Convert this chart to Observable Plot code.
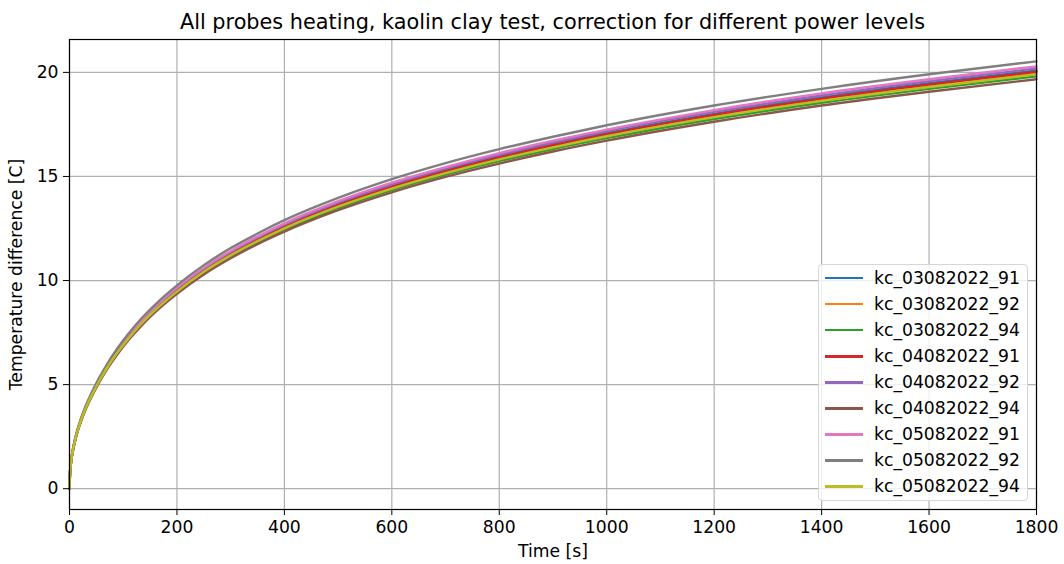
<!DOCTYPE html>
<html>
<head>
<meta charset="utf-8">
<script src="https://cdn.jsdelivr.net/npm/d3@7"></script>
<script src="https://cdn.jsdelivr.net/npm/@observablehq/plot@0.6"></script>
<style>
  body { margin: 0; background: #fff; font-family: "DejaVu Sans", sans-serif; }
  #wrap { position: relative; width: 1064px; height: 564px; }
  #title { position: absolute; left: 69px; width: 967px; top: 9px; text-align: center; font-size: 20.8px; line-height: 26px; color: #000; white-space: nowrap; }
  #legend { position: absolute; left: 818px; top: 264px; width: 210px; height: 237px; box-sizing: border-box;
            border: 1px solid #d6d6d6; border-radius: 4px; background: rgba(255,255,255,0.8); }
  .row { position: absolute; left: 0; width: 100%; height: 26px; line-height: 26px; font-size: 17.2px; color: #000; }
  .row .sw { position: absolute; left: 6px; top: 12px; width: 38px; height: 2.4px; }
  .row .lb { position: absolute; left: 55px; top: 0; white-space: nowrap; }
</style>
</head>
<body>
<div id="wrap">
  <div id="title">All probes heating, kaolin clay test, correction for different power levels</div>
  <div id="chart"></div>
  <div id="legend"></div>
</div>
<script>
// Sample times (s)
const times = [0, 1, 2, 4, 7, 10, 15, 20, 30, 40, 55, 70, 90, 110, 135, 160, 200, 250, 300, 350, 400, 500, 600, 700, 800, 900, 1000, 1200, 1400, 1600, 1800];

// Temperature difference (C) for each probe run
const kc_03082022_91 = [0, 0.78, 1.08, 1.50, 1.95, 2.30, 2.80, 3.20, 3.88, 4.45, 5.20, 5.86, 6.62, 7.29, 8.03, 8.67, 9.56, 10.51, 11.31, 12.00, 12.62, 13.67, 14.55, 15.30, 15.96, 16.55, 17.08, 18.01, 18.80, 19.48, 20.09];
const kc_03082022_92 = [0, 0.78, 1.07, 1.49, 1.94, 2.29, 2.78, 3.18, 3.86, 4.42, 5.17, 5.82, 6.58, 7.25, 7.98, 8.62, 9.50, 10.45, 11.24, 11.93, 12.54, 13.59, 14.46, 15.21, 15.86, 16.45, 16.98, 17.90, 18.69, 19.36, 19.97];
const kc_03082022_94 = [0, 0.77, 1.06, 1.48, 1.92, 2.27, 2.76, 3.16, 3.83, 4.39, 5.13, 5.78, 6.53, 7.19, 7.92, 8.55, 9.43, 10.36, 11.15, 11.83, 12.44, 13.48, 14.35, 15.09, 15.74, 16.32, 16.84, 17.76, 18.54, 19.21, 19.81];
const kc_04082022_91 = [0, 0.78, 1.08, 1.50, 1.94, 2.29, 2.79, 3.19, 3.87, 4.44, 5.18, 5.84, 6.60, 7.27, 8.01, 8.64, 9.53, 10.48, 11.28, 11.96, 12.58, 13.63, 14.51, 15.25, 15.91, 16.50, 17.03, 17.96, 18.74, 19.42, 20.03];
const kc_04082022_92 = [0, 0.78, 1.09, 1.51, 1.96, 2.31, 2.81, 3.22, 3.90, 4.47, 5.23, 5.89, 6.65, 7.33, 8.07, 8.71, 9.61, 10.56, 11.37, 12.06, 12.68, 13.74, 14.62, 15.38, 16.04, 16.63, 17.17, 18.10, 18.89, 19.58, 20.19];
const kc_04082022_94 = [0, 0.76, 1.06, 1.47, 1.91, 2.25, 2.74, 3.13, 3.80, 4.36, 5.09, 5.74, 6.48, 7.14, 7.86, 8.49, 9.36, 10.29, 11.07, 11.75, 12.35, 13.38, 14.24, 14.98, 15.62, 16.20, 16.72, 17.63, 18.41, 19.07, 19.67];
const kc_05082022_91 = [0, 0.79, 1.09, 1.52, 1.97, 2.32, 2.83, 3.23, 3.92, 4.49, 5.25, 5.92, 6.69, 7.36, 8.11, 8.76, 9.66, 10.62, 11.42, 12.12, 12.75, 13.81, 14.70, 15.45, 16.12, 16.72, 17.25, 18.19, 18.99, 19.67, 20.29];
const kc_05082022_92 = [0, 0.80, 1.10, 1.53, 1.99, 2.35, 2.86, 3.27, 3.97, 4.55, 5.31, 5.99, 6.77, 7.45, 8.21, 8.86, 9.77, 10.74, 11.56, 12.26, 12.90, 13.97, 14.87, 15.64, 16.31, 16.91, 17.46, 18.41, 19.21, 19.91, 20.53];
const kc_05082022_94 = [0, 0.77, 1.07, 1.49, 1.93, 2.28, 2.77, 3.17, 3.85, 4.41, 5.15, 5.81, 6.56, 7.22, 7.96, 8.59, 9.47, 10.42, 11.21, 11.89, 12.51, 13.55, 14.42, 15.16, 15.82, 16.40, 16.93, 17.85, 18.63, 19.30, 19.91];

const seriesNames = ["kc_03082022_91", "kc_03082022_92", "kc_03082022_94",
                     "kc_04082022_91", "kc_04082022_92", "kc_04082022_94",
                     "kc_05082022_91", "kc_05082022_92", "kc_05082022_94"];
const seriesValues = [kc_03082022_91, kc_03082022_92, kc_03082022_94,
                      kc_04082022_91, kc_04082022_92, kc_04082022_94,
                      kc_05082022_91, kc_05082022_92, kc_05082022_94];
const colors = ["#1f77b4", "#ff7f0e", "#2ca02c", "#d62728", "#9467bd",
                "#8c564b", "#e377c2", "#7f7f7f", "#bcbd22"];

const xTicks = [0, 200, 400, 600, 800, 1000, 1200, 1400, 1600, 1800];
const yTicks = [0, 5, 10, 15, 20];

// Long-format table for the line mark
const rows = seriesNames.flatMap((name, i) =>
  times.map((t, j) => ({ series: name, t, v: seriesValues[i][j] })));

const gridStyle = { stroke: "#b0b0b0", strokeOpacity: 1, strokeWidth: 1.2 };

const chart = Plot.plot({
  width: 1064,
  height: 564,
  marginLeft: 69,
  marginRight: 28,
  marginTop: 39,
  marginBottom: 55,
  style: { fontFamily: "DejaVu Sans, sans-serif", fontSize: "17.2px", color: "#000", background: "#fff" },
  x: { domain: [0, 1800] },
  y: { domain: [-1.0, 21.58] },
  color: { domain: seriesNames, range: colors },
  marks: [
    Plot.gridX(xTicks, gridStyle),
    Plot.gridY(yTicks, gridStyle),
    Plot.line(rows, { x: "t", y: "v", z: "series", stroke: "series", strokeWidth: 2.4, curve: "monotone-x" }),
    Plot.frame({ stroke: "#000", strokeWidth: 1.2 }),
    Plot.axisX(xTicks, { tickSize: 6, tickPadding: 5, tickFormat: d => String(d),
      label: "Time [s]", labelAnchor: "center", labelArrow: "none", labelOffset: 47 }),
    Plot.axisY(yTicks, { tickSize: 6, tickPadding: 5, tickFormat: d => String(d),
      label: "Temperature difference [C]", labelAnchor: "center", labelArrow: "none", labelOffset: 60 })
  ]
});
document.getElementById("chart").appendChild(chart);

// Legend with line swatches
const legend = document.getElementById("legend");
seriesNames.forEach((name, i) => {
  const row = document.createElement("div");
  row.className = "row";
  row.style.top = (26.04 * i) + "px";
  const sw = document.createElement("span");
  sw.className = "sw";
  sw.style.background = colors[i];
  const lb = document.createElement("span");
  lb.className = "lb";
  lb.textContent = name;
  row.appendChild(sw);
  row.appendChild(lb);
  legend.appendChild(row);
});
</script>
</body>
</html>
